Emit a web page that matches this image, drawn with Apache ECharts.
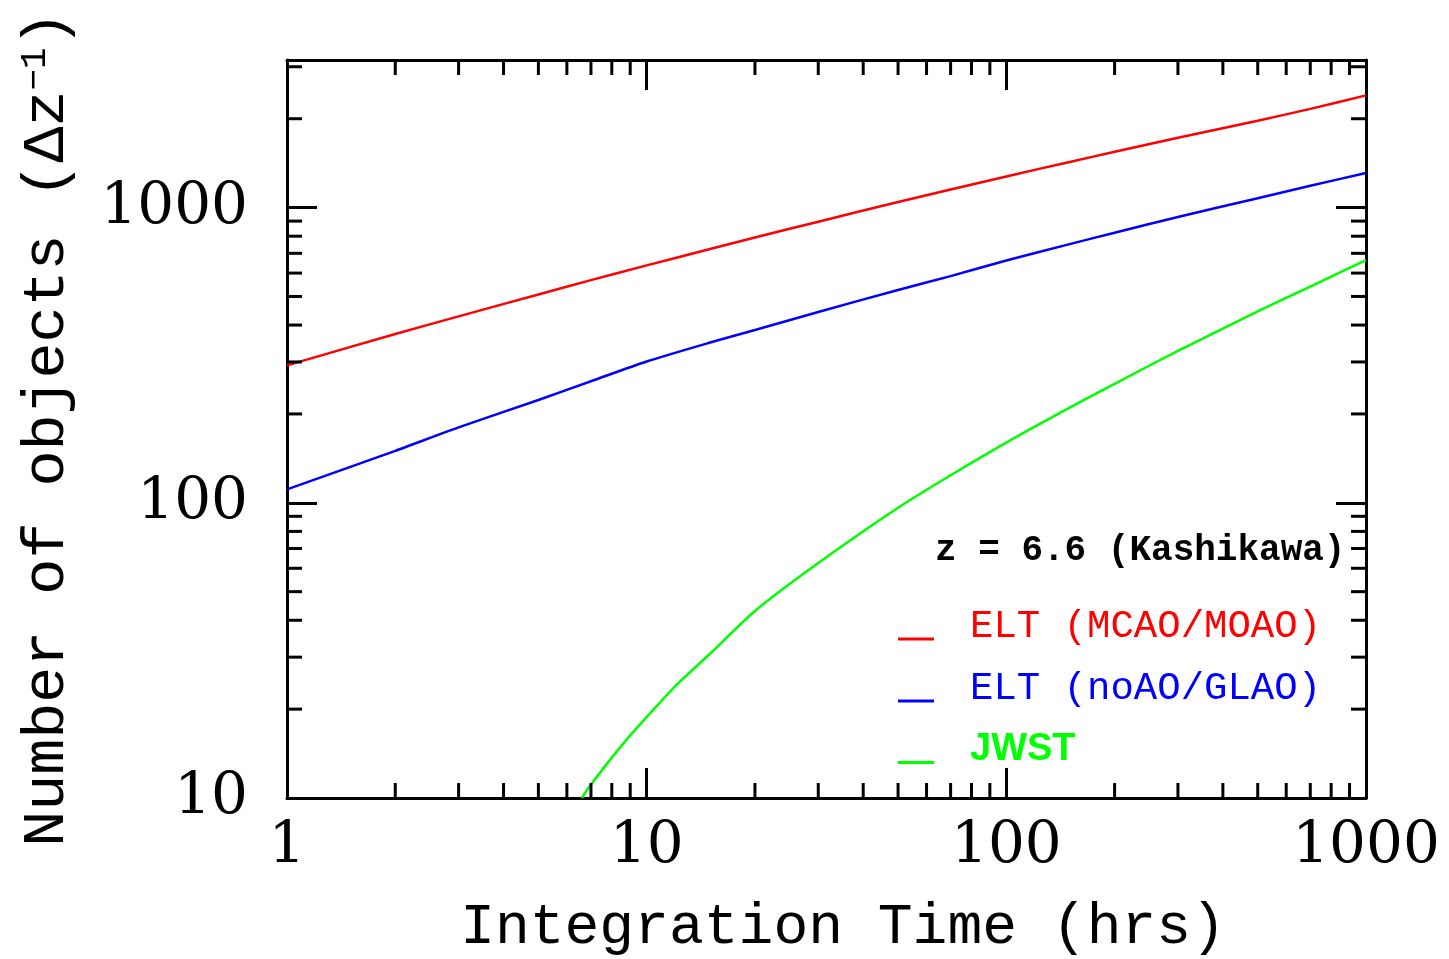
<!DOCTYPE html>
<html>
<head>
<meta charset="utf-8">
<script src="https://cdn.jsdelivr.net/npm/echarts@6/dist/echarts.min.js"></script>
<style>html,body{margin:0;padding:0;background:#fff;}#chart{width:1449px;height:959px;}</style>
</head>
<body>
<div id="chart"></div>
<script>
// ---- data ----
const hoursELT = [1, 2, 3, 5, 7, 10, 15, 20, 30, 50, 70, 100, 150, 200, 300, 500, 700, 1000];
const eltMCAO  = [292, 373, 428, 508, 568, 637, 724, 792, 896, 1044, 1151, 1275, 1428, 1545, 1723, 1969, 2160, 2400];
const eltNoAO  = [111, 150, 180, 223, 258, 301, 349, 385, 443, 526, 586, 662, 752, 822, 929, 1076, 1186, 1309];
const hoursJWST = [6.6, 7, 8, 9, 10, 12, 15, 20, 30, 50, 70, 100, 150, 200, 300, 500, 700, 1000];
const jwst      = [10, 11.1, 13.7, 16.3, 18.8, 23.9, 30.8, 43, 62.5, 96.2, 124, 160, 210, 253, 327, 445, 540, 664];

const seriesNames = ['ELT (MCAO/MOAO)', 'ELT (noAO/GLAO)', 'JWST'];
const seriesColors = ['#ff0000', '#0000ff', '#00ff00'];
const xRange = [1, 1000];
const yRange = [10, 3162];
const xMinorTicks = [2,3,4,5,6,7,8,9,20,30,40,50,60,70,80,90,200,300,400,500,600,700,800,900];
const yMinorTicks = [20,30,40,50,60,70,80,90,200,300,400,500,600,700,800,900,2000,3000];
const legendTitle = 'z = 6.6 (Kashikawa)';
const xTitle = 'Integration Time (hrs)';
const yTitle = 'Number of objects (Δz{sup|−1})';

const FONT = 'Liberation Mono';
const NUMFONT = 'DejaVu Serif';
const pairs = (xs, ys) => xs.map((x, i) => [x, ys[i]]);
const isPow10 = v => Math.abs(Math.log10(v) - Math.round(Math.log10(v))) < 1e-6;

const axisLineStyle = { show: true, lineStyle: { color: '#000', width: 3 } };
const majorTick = { show: true, inside: true, length: 30, lineStyle: { color: '#000', width: 3 } };

const chart = echarts.init(document.getElementById('chart'), null, { renderer: 'canvas' });

const lineSeries = (i, xs, ys) => ({
  name: seriesNames[i], type: 'line', data: pairs(xs, ys), showSymbol: false,
  smooth: 0.25,
  color: seriesColors[i], lineStyle: { color: seriesColors[i], width: 2.5 }
});

const option = {
  animation: false,
  backgroundColor: '#fff',
  grid: { left: 287, right: 83, top: 60, bottom: 161, containLabel: false, outerBoundsMode: 'none' },
  title: {
    text: legendTitle, left: 935, top: 533, padding: 0,
    textStyle: { fontFamily: FONT, fontSize: 36, fontWeight: 'bold', color: '#000' }
  },
  legend: {
    orient: 'vertical', left: 898, top: 607, padding: 0,
    itemWidth: 67, itemHeight: 30, itemGap: 23,
    icon: 'path://M0,0 M0,26 L36,26 L36,29 L0,29 Z M67,30',
    selectedMode: false,
    textStyle: { fontFamily: FONT, fontSize: 39 },
    data: [
      { name: seriesNames[0], textStyle: { color: seriesColors[0] } },
      { name: seriesNames[1], textStyle: { color: seriesColors[1] } },
      { name: seriesNames[2], textStyle: { color: seriesColors[2], fontFamily: 'Liberation Sans', fontWeight: 'bold', fontSize: 38 } }
    ]
  },
  xAxis: [
    {
      type: 'log', logBase: 10, min: xRange[0], max: xRange[1], position: 'bottom',
      axisLine: axisLineStyle, axisTick: majorTick, splitLine: { show: false },
      axisLabel: { fontFamily: NUMFONT, fontSize: 58, color: '#000', margin: 20,
        formatter: v => isPow10(v) ? String(Math.round(v)) : '' },
      name: xTitle, nameLocation: 'middle', nameGap: 101, nameMoveOverlap: false,
      nameTextStyle: { fontFamily: FONT, fontSize: 58, color: '#000', padding: [0, 0, 0, 33] }
    },
    {
      type: 'log', logBase: 10, min: xRange[0], max: xRange[1], position: 'top',
      axisLine: axisLineStyle, axisTick: majorTick, splitLine: { show: false },
      axisLabel: { show: false }
    }
  ],
  yAxis: [
    {
      type: 'log', logBase: 10, min: yRange[0], max: yRange[1], position: 'left',
      axisLine: axisLineStyle, axisTick: majorTick, splitLine: { show: false },
      axisLabel: { fontFamily: NUMFONT, fontSize: 58, color: '#000', margin: 39, showMaxLabel: false,
        formatter: v => isPow10(v) ? String(Math.round(v)) : '' },
      name: yTitle, nameLocation: 'middle', nameGap: 210, nameRotate: 90, nameMoveOverlap: false,
      nameTextStyle: { fontFamily: FONT, fontSize: 60, color: '#000',
        rich: { sup: { fontFamily: FONT, fontSize: 36, color: '#000', verticalAlign: 'top', padding: [0, 0, 22, 0] } } }
    },
    {
      type: 'log', logBase: 10, min: yRange[0], max: yRange[1], position: 'right',
      axisLine: axisLineStyle, axisTick: majorTick, splitLine: { show: false },
      axisLabel: { show: false }
    }
  ],
  series: [
    lineSeries(0, hoursELT, eltMCAO),
    lineSeries(1, hoursELT, eltNoAO),
    lineSeries(2, hoursJWST, jwst),
    {
      type: 'custom', silent: true, z: 5,
      data: xMinorTicks.map(v => [v, yRange[0]]),
      encode: { x: 0, y: 1 },
      renderItem: (params, api) => {
        const v = api.value(0);
        const b = api.coord([v, yRange[0]]);
        const t = api.coord([v, yRange[1]]);
        const st = { stroke: '#000', lineWidth: 3 };
        return { type: 'group', children: [
          { type: 'line', shape: { x1: b[0], y1: b[1], x2: b[0], y2: b[1] - 15 }, style: st },
          { type: 'line', shape: { x1: t[0], y1: t[1], x2: t[0], y2: t[1] + 15 }, style: st }
        ]};
      }
    },
    {
      type: 'custom', silent: true, z: 5,
      data: yMinorTicks.map(v => [xRange[0], v]),
      encode: { x: 0, y: 1 },
      renderItem: (params, api) => {
        const v = api.value(1);
        const l = api.coord([xRange[0], v]);
        const r = api.coord([xRange[1], v]);
        const st = { stroke: '#000', lineWidth: 3 };
        return { type: 'group', children: [
          { type: 'line', shape: { x1: l[0], y1: l[1], x2: l[0] + 15, y2: l[1] }, style: st },
          { type: 'line', shape: { x1: r[0], y1: r[1], x2: r[0] - 15, y2: r[1] }, style: st }
        ]};
      }
    }
  ]
};
chart.setOption(option);
</script>
</body>
</html>
